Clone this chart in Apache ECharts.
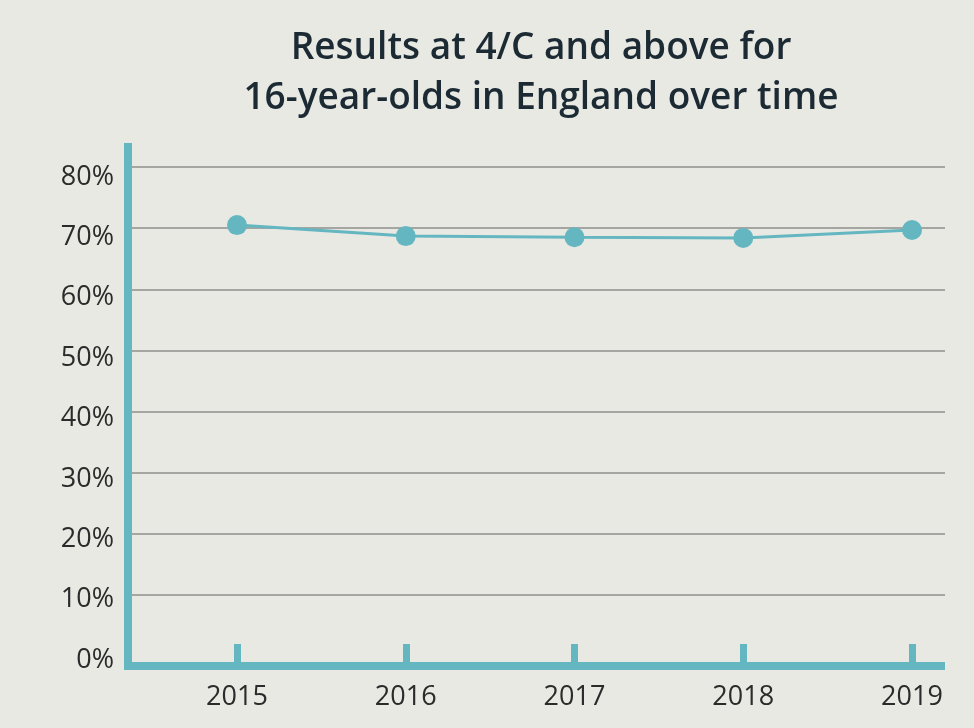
<!DOCTYPE html>
<html>
<head>
<meta charset="utf-8">
<script src="https://cdn.jsdelivr.net/npm/echarts@6/dist/echarts.min.js"></script>
<style>
  html, body { margin: 0; padding: 0; background: #e9e9e4; }
  #chart { width: 974px; height: 728px; }
</style>
</head>
<body>
<div id="chart"></div>
<script>
const titleText = 'Results at 4/C and above for\n16-year-olds in England over time';
const years = ['2015', '2016', '2017', '2018', '2019'];
const passRates = [70.5, 68.7, 68.5, 68.4, 69.7];
const yTicks = { min: 0, max: 80, interval: 10 };

const teal = '#64b7c1';
const gridGray = '#8e8e8b';
const fontFam = '"Open Sans", "Noto Sans", sans-serif';

const lineCount = Math.round((yTicks.max - yTicks.min) / yTicks.interval) + 1;
const splitColors = [];
for (let i = 0; i < lineCount; i++) splitColors.push(i === 0 ? 'rgba(0,0,0,0)' : gridGray);

const chart = echarts.init(document.getElementById('chart'));
chart.setOption({
  backgroundColor: '#e9e9e4',
  animation: false,
  title: {
    text: titleText,
    left: 541,
    top: 23,
    padding: 0,
    textAlign: 'center',
    textStyle: {
      fontFamily: fontFam,
      fontWeight: 600,
      fontSize: 37,
      lineHeight: 50,
      color: '#1c2a33'
    }
  },
  grid: [
    { left: 128, right: 33, top: 147, bottom: 62 },
    { left: 132, right: 29, top: 167, bottom: 72 },
    { left: 128, right: 29, top: 177, bottom: 68 },
    { left: 237, right: 62, top: 167, bottom: 72 },
    { left: 237, right: 62, top: 167, bottom: 66 }
  ],
  xAxis: [
    { gridIndex: 0, type: 'value', min: 0, max: 1,
      axisLine: { show: true, lineStyle: { color: teal, width: 8, cap: 'square' } },
      axisTick: { show: false }, axisLabel: { show: false }, splitLine: { show: false } },
    { gridIndex: 1, type: 'value', min: 0, max: 1, show: false },
    { gridIndex: 2, type: 'value', min: 0, max: 1, show: false },
    { gridIndex: 3, type: 'category', data: years, boundaryGap: false, show: false },
    { gridIndex: 4, type: 'category', data: years, boundaryGap: false,
      axisLine: { show: false },
      axisTick: { show: true, inside: true, length: 18, alignWithLabel: true,
        lineStyle: { color: teal, width: 7 } },
      axisLabel: { margin: 22, fontFamily: fontFam, fontSize: 27, color: '#2b2b2b' },
      splitLine: { show: false } }
  ],
  yAxis: [
    { gridIndex: 0, type: 'value', min: 0, max: 1,
      axisLine: { show: true, lineStyle: { color: teal, width: 8, cap: 'square' } },
      axisTick: { show: false }, axisLabel: { show: false }, splitLine: { show: false } },
    { gridIndex: 1, type: 'value', min: yTicks.min, max: yTicks.max, interval: yTicks.interval,
      axisLine: { show: false }, axisTick: { show: false }, axisLabel: { show: false },
      splitLine: { show: true, lineStyle: { color: splitColors, width: 1.5 } } },
    { gridIndex: 2, type: 'value', min: yTicks.min, max: yTicks.max, interval: yTicks.interval,
      axisLine: { show: false }, axisTick: { show: false }, splitLine: { show: false },
      axisLabel: { margin: 14, fontFamily: fontFam, fontSize: 27, color: '#2b2b2b',
        formatter: '{value}%' } },
    { gridIndex: 3, type: 'value', min: yTicks.min, max: yTicks.max, interval: yTicks.interval,
      show: false },
    { gridIndex: 4, type: 'value', min: 0, max: 1, show: false }
  ],
  series: [
    {
      type: 'line',
      xAxisIndex: 3,
      yAxisIndex: 3,
      data: passRates,
      symbol: 'circle',
      symbolSize: 20,
      itemStyle: { color: teal },
      lineStyle: { color: teal, width: 3 },
      z: 5
    }
  ]
});
</script>
</body>
</html>
